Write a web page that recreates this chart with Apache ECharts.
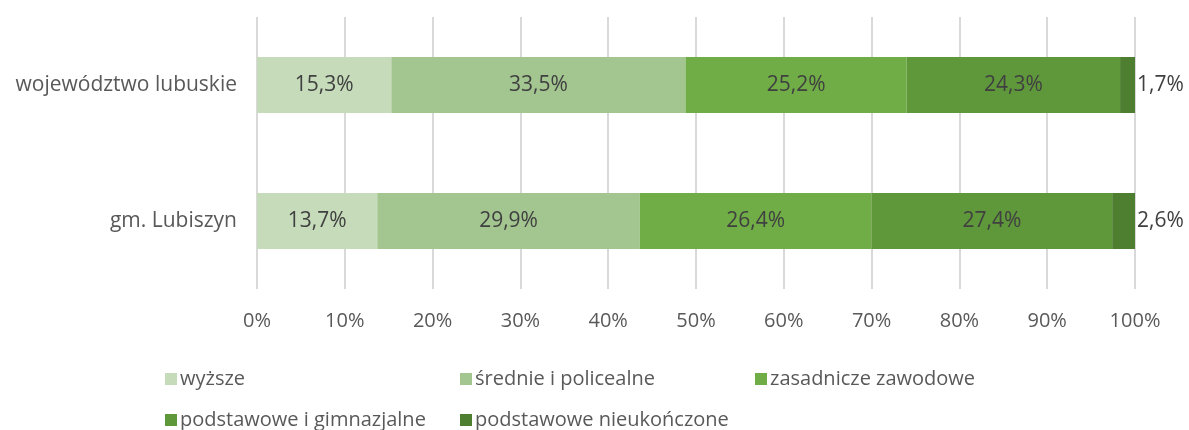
<!DOCTYPE html>
<html><head><meta charset="utf-8">
<script src="https://cdn.jsdelivr.net/npm/echarts@6/dist/echarts.min.js"></script>
<style>html,body{margin:0;padding:0;background:#fff}#c{width:1189px;height:430px}</style>
</head><body><div id="c"></div>
<script>
const categories = ['gm. Lubiszyn', 'województwo lubuskie'];
const seriesNames = ['wyższe', 'średnie i policealne', 'zasadnicze zawodowe', 'podstawowe i gimnazjalne', 'podstawowe nieukończone'];
const wyzsze = [13.7, 15.3];
const srednie = [29.9, 33.5];
const zasadnicze = [26.4, 25.2];
const podstawowe = [27.4, 24.3];
const nieukonczone = [2.6, 1.7];
const tickLabels = ['0%','10%','20%','30%','40%','50%','60%','70%','80%','90%','100%'];
const colors = ['#c5dbb9', '#a3c590', '#70ad47', '#5f973b', '#4e7f30'];
const values = [wyzsze, srednie, zasadnicze, podstawowe, nieukonczone];
const FONT = 'Open Sans';
const fmt = p => p.value.toFixed(1).replace('.', ',') + '%';
const series = seriesNames.map((n, i) => ({
  name: n, type: 'bar', stack: 'total', barWidth: 56,
  itemStyle: { color: colors[i] },
  label: {
    show: true, position: i === 4 ? 'right' : 'inside', distance: 2,
    formatter: fmt, color: '#404040', fontSize: 21, fontFamily: FONT
  },
  data: values[i]
}));
const legPos = [[160, 364], [455, 364], [750, 364], [160, 405], [455, 405]];
const legends = seriesNames.map((n, i) => ({
  data: [n], left: legPos[i][0], top: legPos[i][1],
  itemWidth: 12, itemHeight: 12, itemGap: 7,
  icon: 'rect',
  textStyle: { color: '#595959', fontSize: 20, fontFamily: FONT, padding: [0,0,0,-2] }
}));
const chart = echarts.init(document.getElementById('c'));
chart.setOption({
  animation: false,
  legend: legends,
  grid: { left: 257, right: 54, top: 17, bottom: 141 },
  xAxis: {
    type: 'value', min: 0, max: 100, interval: 10,
    axisLabel: { formatter: v => tickLabels[Math.round(v / 10)], color: '#595959', fontSize: 20, fontFamily: FONT, margin: 22 },
    splitLine: { lineStyle: { color: '#d9d9d9', width: 2 } },
    axisLine: { show: false }, axisTick: { show: false }
  },
  yAxis: {
    type: 'category', data: categories,
    axisLabel: { color: '#595959', fontSize: 21, fontFamily: FONT, margin: 20 },
    axisLine: { show: false }, axisTick: { show: false }
  },
  series: series
});
</script></body></html>
